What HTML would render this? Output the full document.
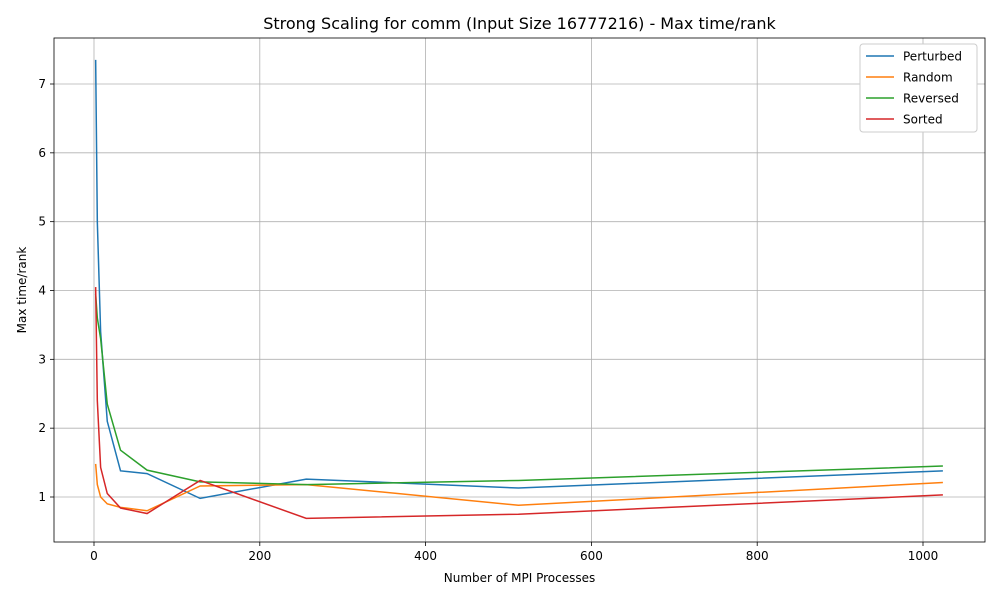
<!DOCTYPE html>
<html><head><meta charset="utf-8"><style>
body{margin:0;background:#fff;font-family:"Liberation Sans","DejaVu Sans",sans-serif}
svg text{font-family:"DejaVu Sans","Liberation Sans",sans-serif;fill:#000}
</style></head><body>
<svg id="c" width="1000" height="600"></svg>
<script>
const procs=[2,4,8,16,32,64,128,256,512,1024];
const perturbed=[7.35,5.0,3.4,2.1,1.38,1.34,0.98,1.26,1.13,1.38];
const random=[1.48,1.18,1.0,0.9,0.85,0.8,1.16,1.18,0.88,1.21];
const reversed=[3.95,3.6,3.3,2.35,1.68,1.39,1.22,1.18,1.24,1.45];
const sorted=[4.05,2.4,1.43,1.05,0.84,0.76,1.24,0.69,0.75,1.03];
const xTicks=[0,200,400,600,800,1000];
const yTicks=[1,2,3,4,5,6,7];
const seriesNames=["Perturbed","Random","Reversed","Sorted"];
const colors=["#1f77b4","#ff7f0e","#2ca02c","#d62728"];
const allSeries=[perturbed,random,reversed,sorted];
const L=54,R=985,T=38,B=542;
const xs=v=>94+v*(923-94)/1000;
const ys=v=>497-(v-1)*(497-84)/6;
const svg=document.getElementById('c');const NS='http://www.w3.org/2000/svg';
function mk(t,a,p){const e=document.createElementNS(NS,t);for(const k in a)e.setAttribute(k,a[k]);(p||svg).appendChild(e);return e;}
xTicks.forEach(v=>{const x=xs(v);
const g=mk('line',{x1:x,x2:x,y1:T,y2:B,stroke:'#b0b0b0','stroke-width':0.8});

mk('line',{x1:x,x2:x,y1:B,y2:B+4,stroke:'#000','stroke-width':0.8});
const t=mk('text',{x:x,y:B+18,'text-anchor':'middle','font-size':12});t.textContent=v;
});
yTicks.forEach(v=>{const y=ys(v);
const g=mk('line',{x1:L,x2:R,y1:y,y2:y,stroke:'#b0b0b0','stroke-width':0.8});

mk('line',{x1:L-4,x2:L,y1:y,y2:y,stroke:'#000','stroke-width':0.8});
const t=mk('text',{x:L-8,y:y+4,'text-anchor':'end','font-size':12});t.textContent=v;
});
allSeries.forEach((s,i)=>{const p=mk('polyline',{points:s.map((v,j)=>xs(procs[j])+','+ys(v)).join(' '),fill:'none',stroke:colors[i],'stroke-width':1.5});
});
const fr=mk('rect',{x:L,y:T,width:R-L,height:B-T,fill:'none',stroke:'#000','stroke-width':0.8});

const ti=mk('text',{x:(L+R)/2,y:29,'text-anchor':'middle','font-size':16});ti.textContent='Strong Scaling for comm (Input Size 16777216) - Max time/rank';

const xl=mk('text',{x:(L+R)/2,y:582,'text-anchor':'middle','font-size':12});xl.textContent='Number of MPI Processes';

const yl=mk('text',{x:0,y:0,'text-anchor':'middle','font-size':12,transform:'translate(26,290) rotate(-90)'});yl.textContent='Max time/rank';

const lg=mk('g',{});
mk('rect',{x:860,y:44,width:117,height:88,rx:3,fill:'#fff',stroke:'#ccc'},lg);
seriesNames.forEach((n,i)=>{const y=56+i*21;
const e=mk('g',{},lg);
mk('line',{x1:866,x2:894,y1:y,y2:y,stroke:colors[i],'stroke-width':1.5},e);
const t=mk('text',{x:903,y:y+4.5,'font-size':12},e);t.textContent=n;});
</script>
</body></html>
